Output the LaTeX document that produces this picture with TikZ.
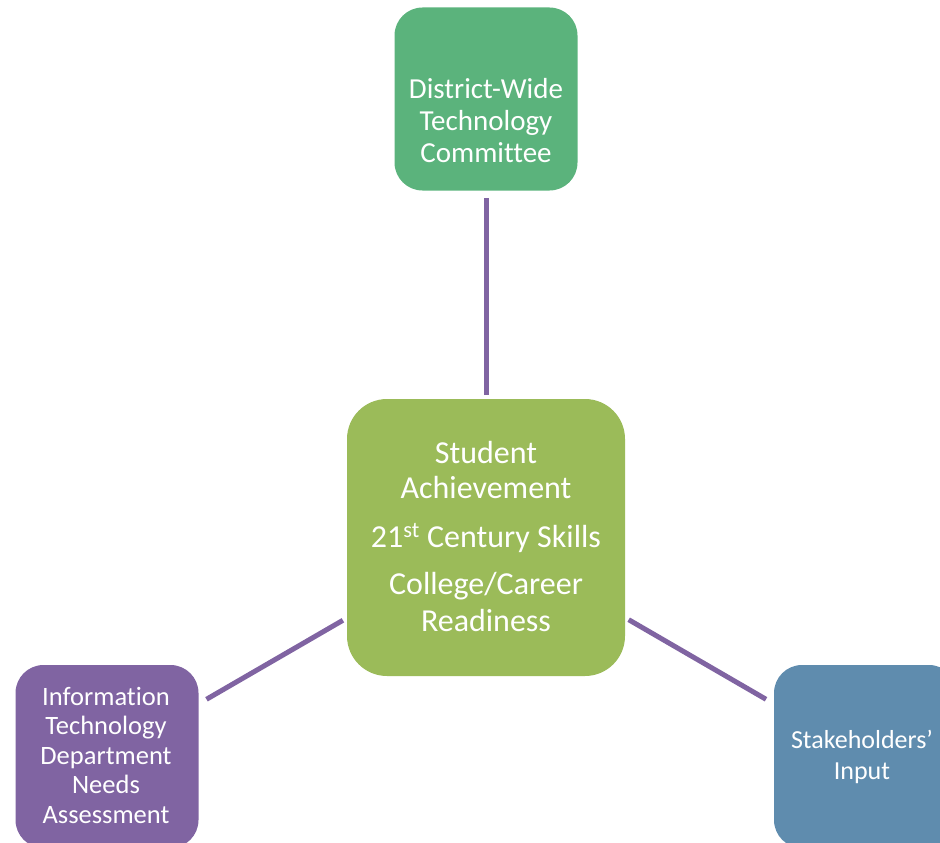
\documentclass[tikz,border=0pt]{standalone}
\usepackage{fontspec}
\setmainfont{Carlito}[Ligatures=NoCommon]
\definecolor{topc}{HTML}{5BB37C}
\definecolor{midc}{HTML}{9BBB59}
\definecolor{leftc}{HTML}{8064A2}
\definecolor{rightc}{HTML}{5F8CAE}
\definecolor{linkc}{HTML}{8064A2}
\begin{document}
\begin{tikzpicture}[x=1pt,y=-1pt,
  box/.style={rectangle, draw=none, inner sep=0pt, minimum width=183pt, minimum height=183pt, rounded corners=28pt},
  bigbox/.style={box, minimum width=278pt, minimum height=277pt, rounded corners=40pt},
  txt/.style={text=white, align=center, inner sep=0pt, anchor=base},
  link/.style={draw=linkc, line width=5pt}]
\useasboundingbox (0,0) rectangle (940,843);
\node[box, fill=topc] (dist) at (486,99) {};
\node[bigbox, fill=midc] (core) at (486,537.5) {};
\node[box, fill=leftc] (itd) at (107,756.5) {};
\node[box, fill=rightc] (stake) at (865.5,756.5) {};
\node[txt, font=\fontsize{29}{32}\selectfont] (distT) at (486,162) {District-Wide\\Technology\\Committee};
\node[txt, font=\fontsize{32}{35}\selectfont] (coreT) at (486,631) {Student\\Achievement\\[14pt]21\textsuperscript{st} Century Skills\\[12pt]College/Career\\[2pt]Readiness};
\node[txt, font=\fontsize{26.5}{29.5}\selectfont] (itdT) at (106,823) {Information\\Technology\\Department\\Needs\\Assessment};
\node[txt, font=\fontsize{26}{31}\selectfont] (stakeT) at (862,779) {Stakeholders’\\Input};
\draw[link, shorten <=7.5pt, shorten >=4pt] (dist) -- (core);
\draw[link, shorten <=4.5pt, shorten >=9pt] (core) -- (itd);
\draw[link, shorten <=4pt, shorten >=9pt] (core) -- (stake);
\end{tikzpicture}
\end{document}
